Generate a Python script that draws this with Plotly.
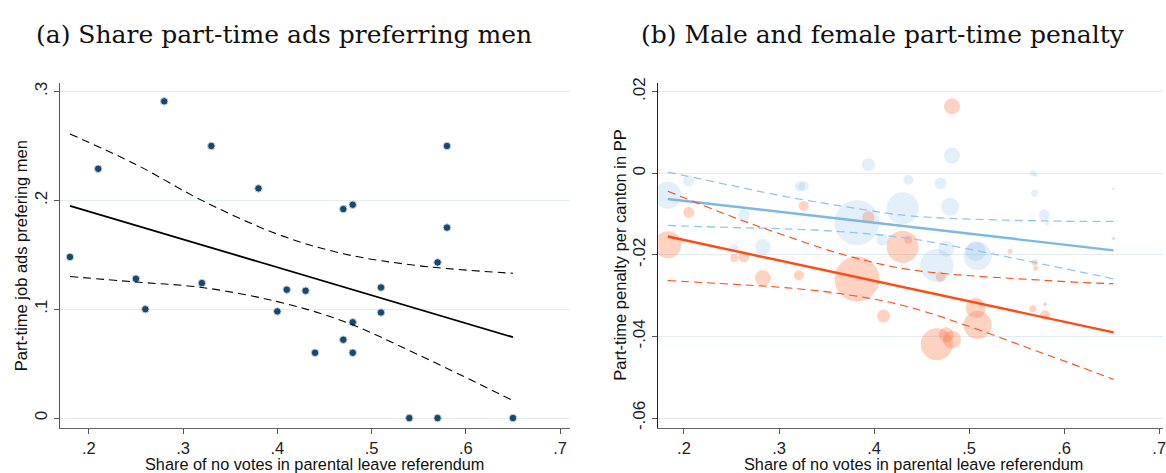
import plotly.graph_objects as go

# ---- panel (a): share of part-time ads preferring men, one dot per canton
no_share_a = [0.18, 0.21, 0.25, 0.26, 0.28, 0.32, 0.33, 0.38, 0.40, 0.41, 0.43, 0.44, 0.47,
              0.47, 0.48, 0.48, 0.48, 0.51, 0.51, 0.54, 0.57, 0.57, 0.58, 0.58, 0.65]
pref_men = [0.148, 0.229, 0.128, 0.100, 0.291, 0.124, 0.250, 0.211, 0.098, 0.118, 0.117, 0.060, 0.192,
            0.072, 0.196, 0.088, 0.060, 0.120, 0.097, 0.0, 0.0, 0.143, 0.250, 0.175, 0.0]

fit_x_a = [0.18, 0.65]
fit_y_a = [0.195, 0.0743]
ci_x_a = [0.18, 0.25, 0.32, 0.40, 0.47, 0.55, 0.65]
ci_hi_a = [0.261, 0.233, 0.200, 0.169, 0.151, 0.140, 0.133]
ci_lo_a = [0.130, 0.125, 0.120, 0.107, 0.089, 0.058, 0.016]

# ---- panel (b): part-time penalty, bubbles sized by canton weight
male_x = [0.183, 0.205, 0.253, 0.263, 0.283, 0.322, 0.326, 0.382, 0.394, 0.409, 0.430, 0.436, 0.466,
          0.470, 0.476, 0.480, 0.482, 0.507, 0.509, 0.567, 0.570, 0.569, 0.579, 0.582, 0.652]
male_y = [-0.0054, -0.0019, -0.0184, -0.0103, -0.0181, -0.0032, -0.0032, -0.0121, 0.0021, -0.0163,
          -0.0086, -0.0016, -0.0226, -0.0025, -0.0185, -0.0082, 0.0043, -0.0191, -0.0203, 0.0,
          -0.0004, -0.0049, -0.0102, -0.0123, -0.0038]
male_w = [27, 11, 8, 12, 16, 10, 10, 45, 13, 12, 32, 10, 33, 12, 16, 18, 16, 20, 28, 6, 4, 7, 11, 4, 3]

female_x = [0.183, 0.205, 0.253, 0.263, 0.283, 0.321, 0.326, 0.382, 0.394, 0.410, 0.430, 0.436, 0.466,
            0.470, 0.476, 0.482, 0.482, 0.507, 0.509, 0.543, 0.567, 0.569, 0.570, 0.580, 0.580, 0.652]
female_y = [-0.0175, -0.0096, -0.0208, -0.0205, -0.0257, -0.0250, -0.0080, -0.0259, -0.0108, -0.0350,
            -0.0180, -0.0163, -0.0419, -0.0254, -0.0396, -0.0408, 0.0164, -0.0330, -0.0372, -0.0191,
            -0.0332, -0.0219, -0.0233, -0.0348, -0.0321, -0.0160]
female_w = [27, 11, 8, 11, 16, 10, 10, 45, 12, 13, 32, 8, 32, 10, 15, 18, 16, 20, 28, 5, 7, 6, 5, 10, 4, 3]

fit_x_b = [0.183, 0.652]
male_fit = [-0.0063, -0.0189]
female_fit = [-0.0155, -0.0390]
ci_x_b = [0.183, 0.25, 0.304, 0.37, 0.44, 0.582, 0.652]
male_hi = [0.0003, -0.0030, -0.0056, -0.0082, -0.0105, -0.0117, -0.0118]
male_lo = [-0.0128, -0.0133, -0.0136, -0.0144, -0.0161, -0.0225, -0.0259]
female_hi = [-0.0044, -0.0106, -0.0151, -0.0201, -0.0237, -0.0263, -0.0271]
female_lo = [-0.0263, -0.0272, -0.0280, -0.0297, -0.0330, -0.0445, -0.0505]

x_ticks = [0.2, 0.3, 0.4, 0.5, 0.6, 0.7]
x_ticktext = [".2", ".3", ".4", ".5", ".6", ".7"]
ya_ticks = [0, 0.1, 0.2, 0.3]
ya_ticktext = ["0", ".1", ".2", ".3"]
yb_ticks = [0.02, 0, -0.02, -0.04, -0.06]
yb_ticktext = [".02", "0", "-.02", "-.04", "-.06"]

W, H = 1166, 473
SANS = "Liberation Sans, Arial, sans-serif"
SERIF = "DejaVu Serif, Liberation Serif, serif"
BLUE_LINE = "#7cb8e6"
BLUE_DASH = "#93c6ee"
ORANGE = "#ff4a12"

fig = go.Figure()

# panel (a)
fig.add_trace(go.Scatter(x=no_share_a, y=pref_men, mode="markers", xaxis="x", yaxis="y",
                         marker=dict(color="#1a476f", size=7.5, line=dict(color="#c9d6e3", width=1))))
fig.add_trace(go.Scatter(x=fit_x_a, y=fit_y_a, mode="lines", xaxis="x", yaxis="y",
                         line=dict(color="black", width=1.8)))
for ci in (ci_hi_a, ci_lo_a):
    fig.add_trace(go.Scatter(x=ci_x_a, y=ci, mode="lines", xaxis="x", yaxis="y", line_shape="spline",
                             line=dict(color="black", width=1.1, dash="8px,5px")))

# panel (b)
fig.add_trace(go.Scatter(x=male_x, y=male_y, mode="markers", xaxis="x2", yaxis="y2",
                         marker=dict(color="rgba(130,185,230,0.32)", size=male_w, line=dict(width=0))))
fig.add_trace(go.Scatter(x=female_x, y=female_y, mode="markers", xaxis="x2", yaxis="y2",
                         marker=dict(color="rgba(255,110,60,0.45)", size=female_w, line=dict(width=0))))
fig.add_trace(go.Scatter(x=fit_x_b, y=male_fit, mode="lines", xaxis="x2", yaxis="y2",
                         line=dict(color=BLUE_LINE, width=2.4)))
fig.add_trace(go.Scatter(x=fit_x_b, y=female_fit, mode="lines", xaxis="x2", yaxis="y2",
                         line=dict(color=ORANGE, width=2.4)))
for ci in (male_hi, male_lo):
    fig.add_trace(go.Scatter(x=ci_x_b, y=ci, mode="lines", xaxis="x2", yaxis="y2", line_shape="spline",
                             line=dict(color=BLUE_DASH, width=1.3, dash="8px,5px")))
for ci in (female_hi, female_lo):
    fig.add_trace(go.Scatter(x=ci_x_b, y=ci, mode="lines", xaxis="x2", yaxis="y2", line_shape="spline",
                             line=dict(color=ORANGE, width=1.1, dash="8px,5px")))

y_dom = [(H - 429) / H, (H - 79) / H]
xa = dict(tickvals=x_ticks, ticktext=x_ticktext, ticks="outside", ticklen=5, tickcolor="#555",
          showline=True, linecolor="#666", linewidth=1.3, showgrid=False, zeroline=False,
          ticklabeloverflow="allow", tickfont=dict(family=SANS, size=16.5, color="#222"))
ya = dict(ticks="outside", ticklen=5, tickcolor="#555", tickangle=-90,
          showline=True, linecolor="#555", linewidth=1.3, showgrid=True, gridcolor="#e3ecee",
          gridwidth=1, zeroline=False, tickfont=dict(family=SANS, size=17, color="#222"))

fig.update_layout(
    width=W, height=H, margin=dict(l=0, r=0, t=0, b=0),
    plot_bgcolor="white", paper_bgcolor="white", showlegend=False,
    xaxis=dict(xa, domain=[60 / W, 571 / W], range=[0.1693, 0.710], anchor="y"),
    yaxis=dict(ya, domain=y_dom, range=[-0.0088, 0.308], tickvals=ya_ticks, ticktext=ya_ticktext, anchor="x"),
    xaxis2=dict(xa, domain=[660 / W, 1.0], range=[0.173, 0.704], anchor="y2"),
    yaxis2=dict(ya, domain=y_dom, range=[-0.06236, 0.02216], tickvals=yb_ticks, ticktext=yb_ticktext,
                anchor="x2", linecolor="#222"),
)

texts = [
    ("(a) Share part-time ads preferring men", 285, 30, 0, SERIF, 25),
    ("(b) Male and female part-time penalty", 885, 30, 0, SERIF, 25),
    ("Share of no votes in parental leave referendum", 315, 466, 0, SANS, 16.3),
    ("Share of no votes in parental leave referendum", 916, 466, 0, SANS, 16.3),
    ("Part-time job ads prefering men", 21, 254, -90, SANS, 16.5),
    ("Part-time penalty per canton in PP", 622, 254, -90, SANS, 16.5),
]
for txt, px, py, ang, fam, sz in texts:
    fig.add_annotation(text=txt, x=px / W, y=1 - py / H, xref="paper", yref="paper",
                       xanchor="center", yanchor="middle", showarrow=False, textangle=ang,
                       font=dict(family=fam, size=sz, color="#111"))

# drop the default body margin so the figure sits at the page corner
fig.write_html("out.html", config={"displayModeBar": False},
               post_script="document.body.style.margin='0';document.body.style.overflow='hidden';")
